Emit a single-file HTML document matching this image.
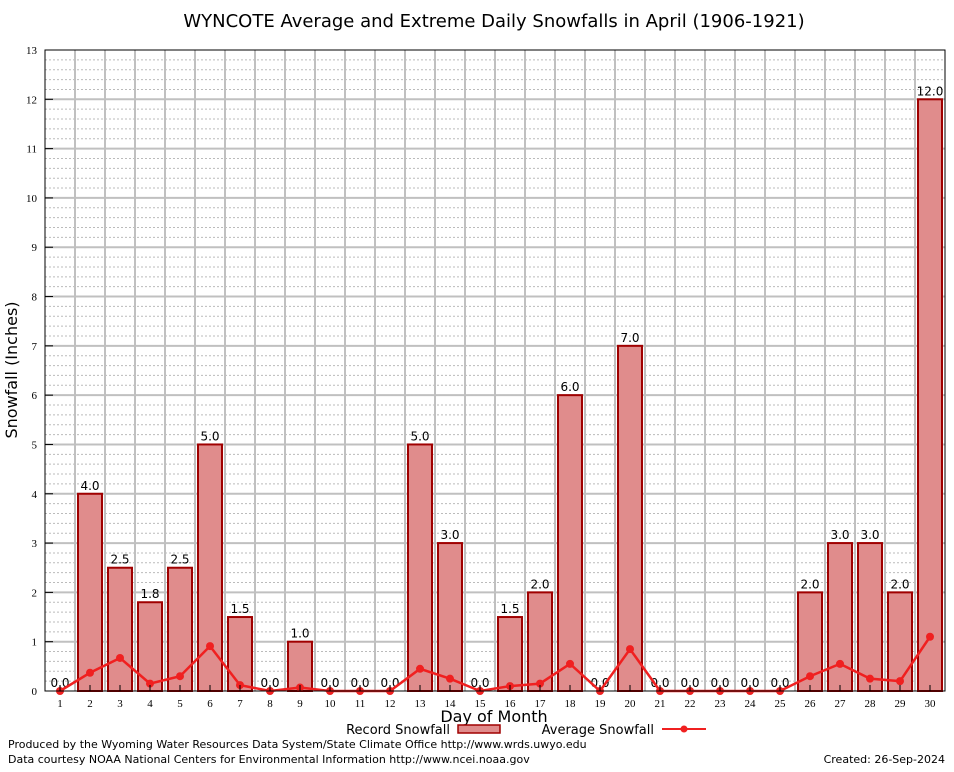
<!DOCTYPE html>
<html><head><meta charset="utf-8"><style>
body{margin:0;background:#fff;font-family:"DejaVu Sans","Liberation Sans",sans-serif}
</style></head><body>
<svg id="c" width="954" height="768" xmlns="http://www.w3.org/2000/svg">
<text x="494" y="27" font-size="18" text-anchor="middle">WYNCOTE Average and Extreme Daily Snowfalls in April (1906-1921)</text>
<text transform="translate(17,370) rotate(-90)" font-size="16" text-anchor="middle">Snowfall (Inches)</text>
<text x="494" y="722" font-size="16" text-anchor="middle">Day of Month</text>
<g id="grid"></g><g id="bars"></g><g id="line"></g><g id="axes"></g>
<g>
<text x="450" y="734" font-size="13" text-anchor="end">Record Snowfall</text>
<rect x="458" y="725" width="42" height="8" fill="#e08c8c" stroke="#a00000" stroke-width="1.5"/>
<text x="654" y="734" font-size="13" text-anchor="end">Average Snowfall</text>
<line x1="662" y1="729" x2="706" y2="729" stroke="#f02020" stroke-width="2"/>
<circle cx="684" cy="729" r="3.5" fill="#f02020"/>
</g>
<text x="8" y="748" font-size="11">Produced by the Wyoming Water Resources Data System/State Climate Office http://www.wrds.uwyo.edu</text>
<text x="8" y="763" font-size="11">Data courtesy NOAA National Centers for Environmental Information http://www.ncei.noaa.gov</text>
<text x="945" y="763" font-size="11" text-anchor="end">Created:  26-Sep-2024</text>
</svg>
<script>
const days=[1,2,3,4,5,6,7,8,9,10,11,12,13,14,15,16,17,18,19,20,21,22,23,24,25,26,27,28,29,30];
const recordSnow=[0,4,2.5,1.8,2.5,5,1.5,0,1,0,0,0,5,3,0,1.5,2,6,0,7,0,0,0,0,0,2,3,3,2,12];
const avgSnow=[0,0.37,0.67,0.15,0.3,0.91,0.12,0,0.07,0,0,0,0.45,0.25,0,0.1,0.15,0.55,0,0.85,0,0,0,0,0,0.3,0.55,0.25,0.2,1.1];
const yTicks=[0,1,2,3,4,5,6,7,8,9,10,11,12,13];
const L=45,R=945,T=50,B=691,ymax=13;
const x=d=>L+(d-0.5)*(R-L)/30;
const y=v=>B-v*(B-T)/ymax;
const NS="http://www.w3.org/2000/svg";
function mk(p,t,a){const e=document.createElementNS(NS,t);for(const k in a)e.setAttribute(k,a[k]);p.appendChild(e);return e;}
const g=document.getElementById('grid'),ba=document.getElementById('bars'),ln=document.getElementById('line'),ax=document.getElementById('axes');
mk(g,'rect',{x:L,y:T,width:R-L,height:B-T,fill:'#fff'});
for(let v=0;v<ymax;v+=0.2){const yy=y(v);mk(g,'line',{x1:L,x2:R,y1:yy,y2:yy,stroke:'#bbb','stroke-width':1,'stroke-dasharray':'2,2'});}
for(let i=1;i<30;i++){const xx=L+i*(R-L)/30;mk(g,'line',{x1:xx,x2:xx,y1:T,y2:B,stroke:'#c0c0c0','stroke-width':2});}
yTicks.forEach(v=>{const yy=y(v);
if(v>0&&v<ymax)mk(g,'line',{x1:L,x2:R,y1:yy,y2:yy,stroke:'#c0c0c0','stroke-width':2});
const t=mk(ax,'text',{x:L-8,y:yy+4,'font-size':11,'text-anchor':'end','font-family':'Liberation Serif,serif'});t.textContent=v;


mk(ax,'line',{x1:L,x2:L+8,y1:yy,y2:yy,stroke:'#000'});});
days.forEach((d,i)=>{const v=recordSnow[i];
if(v>0){const r=mk(ba,'rect',{x:x(d)-12,y:y(v),width:24,height:B-y(v),fill:'#e08c8c',stroke:'#a00000','stroke-width':2});

}
const lb=mk(ba,'text',{x:x(d),y:y(v)-4,'font-size':12,'text-anchor':'middle'});lb.textContent=v.toFixed(1);


const tl=mk(ax,'text',{x:x(d),y:B+16,'font-size':11,'text-anchor':'middle','font-family':'Liberation Serif,serif'});tl.textContent=d;


mk(ax,'line',{x1:x(d),x2:x(d),y1:B,y2:B-6,stroke:'#000'});});
const pl=mk(ln,'polyline',{points:days.map((d,i)=>x(d)+','+y(avgSnow[i])).join(' '),fill:'none',stroke:'#f02020','stroke-width':2.5});


days.forEach((d,i)=>{const c=mk(ln,'circle',{cx:x(d),cy:y(avgSnow[i]),r:4,fill:'#f02020'});

});
mk(ax,'rect',{x:L,y:T,width:R-L,height:B-T,fill:'none',stroke:'#000','stroke-width':1});
</script>
</body></html>
